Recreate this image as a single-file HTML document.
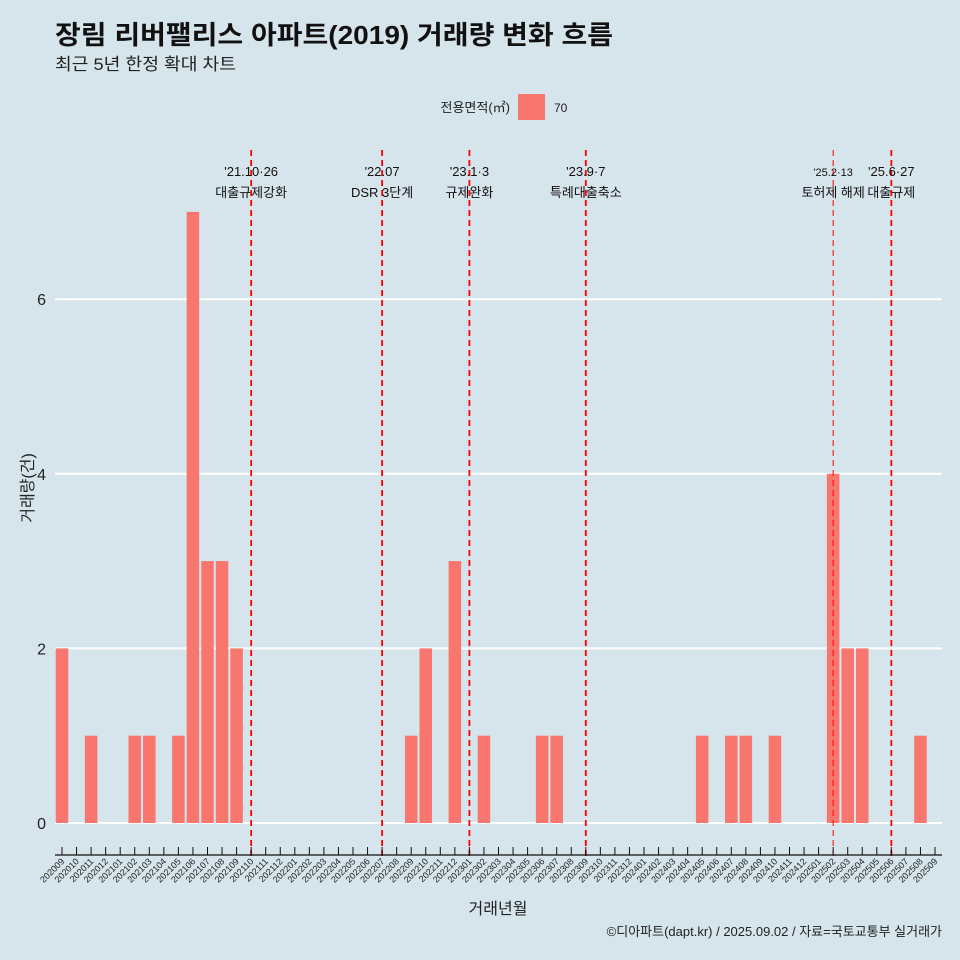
<!DOCTYPE html>
<html><head><meta charset="utf-8"><style>
body{margin:0;background:#d6e4eb;}
svg{display:block;font-family:"Liberation Sans","Noto Sans CJK KR",sans-serif;}
</style></head><body>
<svg id="c" width="960" height="960">
<rect width="960" height="960" fill="#d6e4eb"/>
<text x="55" y="44" font-size="26" font-weight="bold" fill="#111" textLength="558" lengthAdjust="spacingAndGlyphs">장림 리버팰리스 아파트(2019) 거래량 변화 흐름</text>
<text x="55" y="70" font-size="17" fill="#222" textLength="181" lengthAdjust="spacingAndGlyphs">최근 5년 한정 확대 차트</text>
<g>
<text x="510" y="112" font-size="13" text-anchor="end" fill="#222">전용면적(㎡)</text>
<rect x="518" y="94" width="27" height="26" fill="#f8766d"/>
<text x="554" y="112" font-size="12" fill="#222">70</text>
</g>
<g id="grid"></g><g id="bars"></g><g id="events"></g><g id="axis"></g>
<text x="498" y="914" font-size="16" text-anchor="middle" fill="#222">거래년월</text>
<text transform="translate(33,488) rotate(-90)" font-size="16" text-anchor="middle" fill="#222">거래량(건)</text>
<text x="942" y="936" font-size="13" text-anchor="end" fill="#222">©디아파트(dapt.kr) / 2025.09.02 / 자료=국토교통부 실거래가</text>
</svg>
<script>
const months=[];for(let y=2020,m=9;months.length<61;){months.push(''+y+(m<10?'0':'')+m);m++;if(m>12){m=1;y++;}}
const barMonths=["202009","202011","202102","202103","202105","202106","202107","202108","202109","202209","202210","202212","202302","202306","202307","202405","202407","202408","202410","202502","202503","202504","202508"];
const barValues=[2,1,1,1,1,7,3,3,2,1,2,3,1,1,1,1,1,1,1,4,2,2,1];
const yTicks=[0,2,4,6];
const eventMonths=["202110","202207","202301","202309","202502","202506"];
const eventDates=["'21.10·26","'22.07","'23.1·3","'23.9·7","'25.2·13","'25.6·27"];
const eventLabels=["대출규제강화","DSR 3단계","규제완화","특례대출축소","토허제 해제","대출규제"];
const NS='http://www.w3.org/2000/svg';
const X=i=>62+i*14.55, Y=v=>823-v*87.3, bw=12.5;
function mk(p,t,a){const e=document.createElementNS(NS,t);for(const k in a)e.setAttribute(k,a[k]);document.getElementById(p).appendChild(e);return e;}
yTicks.forEach(v=>{
 let l=mk('grid','line',{x1:55,x2:942,y1:Y(v),y2:Y(v),stroke:'#fff','stroke-width':2});
 
 
 let t=mk('grid','text',{x:46,y:Y(v)+6,'font-size':16,'text-anchor':'end',fill:'#222'});t.textContent=v;
 
 
});
barMonths.forEach((m,k)=>{const i=months.indexOf(m);
 let r=mk('bars','rect',{x:X(i)-bw/2,y:Y(barValues[k]),width:bw,height:Y(0)-Y(barValues[k]),fill:'#f8766d'});
 
 
});
eventMonths.forEach((m,k)=>{const i=months.indexOf(m);const thin=m==='202502';
 let l=mk('events','line',{x1:X(i),x2:X(i),y1:150,y2:856,stroke:'#f00','stroke-width':thin?1:1.8,'stroke-dasharray':'6,4'});
 
 
 let t=mk('events','text',{x:X(i),y:176,'font-size':thin?11:13,'text-anchor':'middle',fill:'#111'});t.textContent=eventDates[k];
 
 
 let t2=mk('events','text',{x:X(i),y:197,'font-size':13,'text-anchor':'middle',fill:'#111'});t2.textContent=eventLabels[k];
 
 
});
let ax=mk('axis','line',{x1:55,x2:942,y1:855,y2:855,stroke:'#111','stroke-width':1.2});


months.forEach((m,i)=>{
 let tk=mk('axis','line',{x1:X(i),x2:X(i),y1:847,y2:855,stroke:'#111'});
 
 
 let t=mk('axis','text',{x:X(i)+3,y:862,'font-size':9,'text-anchor':'end',fill:'#222',transform:`rotate(-45 ${X(i)+3} 862)`});t.textContent=m;
 
 
});
</script>
</body></html>
